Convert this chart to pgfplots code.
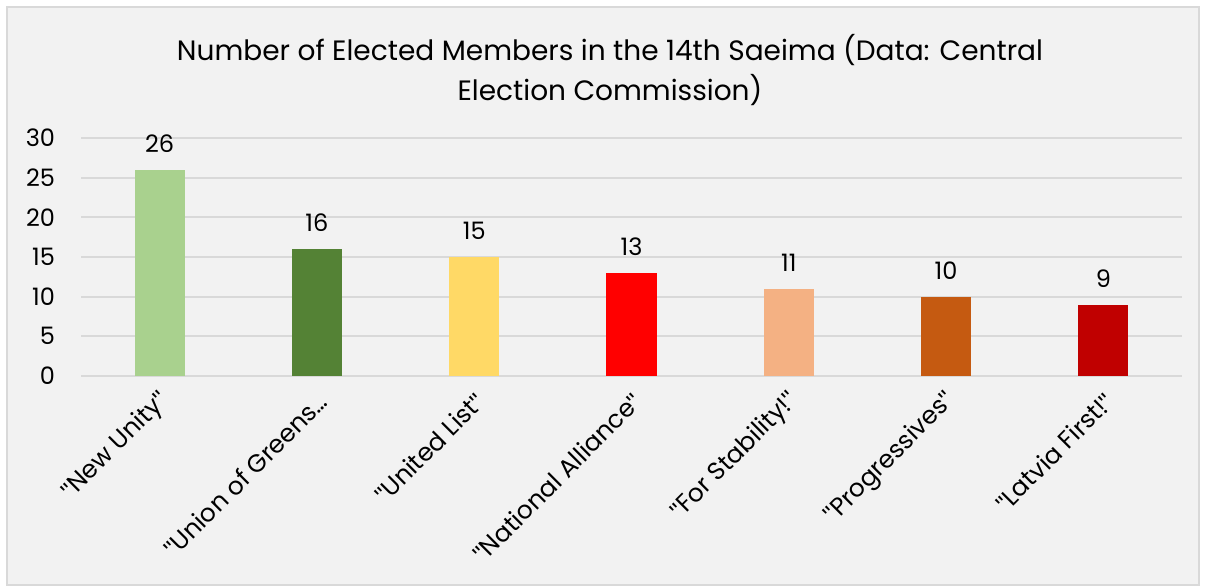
\documentclass[border=0pt]{standalone}
\usepackage{pgfplots}
\pgfplotsset{compat=1.18}
\usepackage{fontspec}
\setmainfont{Poppins}[Ligatures=ResetAll]
\newfontfamily\qf{Liberation Sans}[Ligatures=ResetAll]
\newcommand{\q}{{\qf"}}
\definecolor{bg}{HTML}{F2F2F2}
\definecolor{frame}{HTML}{D9D9D9}
\definecolor{gridc}{HTML}{D9D9D9}
\definecolor{c1}{HTML}{A9D18E}
\definecolor{c2}{HTML}{548235}
\definecolor{c3}{HTML}{FFD966}
\definecolor{c4}{HTML}{FF0000}
\definecolor{c5}{HTML}{F4B183}
\definecolor{c6}{HTML}{C55A11}
\definecolor{c7}{HTML}{C00000}
\begin{document}
\begin{tikzpicture}
\path[fill=white] (0,0) rectangle (603bp,291.5bp);
\path[fill=bg,draw=frame,line width=0.75bp] (3.5bp,-1bp) rectangle (599.5bp,288bp);
\node[align=center,font=\fontsize{14bp}{20bp}\selectfont,anchor=north] at (305bp,278bp)
  {Number of Elected Members in the 14th Saeima (Data: Central\\Election Commission)};
\begin{axis}[
  at={(40.5bp,103.5bp)}, anchor=south west,
  scale only axis, width=550.5bp, height=119bp,
  xmin=-0.5, xmax=6.5, ymin=0, ymax=30,
  ytick={0,5,...,30},
  xtick={0,...,6},
  xticklabels={\q New Unity\q,\q Union of Greens…,\q United List\q,\q National Alliance\q,\q For Stability!\q,\q Progressives\q,\q Latvia First!\q},
  xticklabel style={rotate=45, anchor=east, font=\fontsize{12.4bp}{14bp}\selectfont, xshift=1bp, yshift=-6.5bp},
  yticklabel style={font=\fontsize{12bp}{14bp}\selectfont, xshift=-9.5bp},
  /pgf/number format/assume math mode=true,
  axis line style={draw=none},
  major tick style={draw=none},
  ymajorgrids, grid style={gridc, line width=0.9bp},
  ybar, bar width=25bp, bar shift=0pt,
  nodes near coords,
  every node near coord/.append style={font=\fontsize{12bp}{14bp}\selectfont, black, yshift=5bp},
  clip=false,
]
\addplot[fill=c1,draw=none] coordinates {(0,26)};
\addplot[fill=c2,draw=none] coordinates {(1,16)};
\addplot[fill=c3,draw=none] coordinates {(2,15)};
\addplot[fill=c4,draw=none] coordinates {(3,13)};
\addplot[fill=c5,draw=none] coordinates {(4,11)};
\addplot[fill=c6,draw=none] coordinates {(5,10)};
\addplot[fill=c7,draw=none] coordinates {(6,9)};
\end{axis}
\end{tikzpicture}
\end{document}
